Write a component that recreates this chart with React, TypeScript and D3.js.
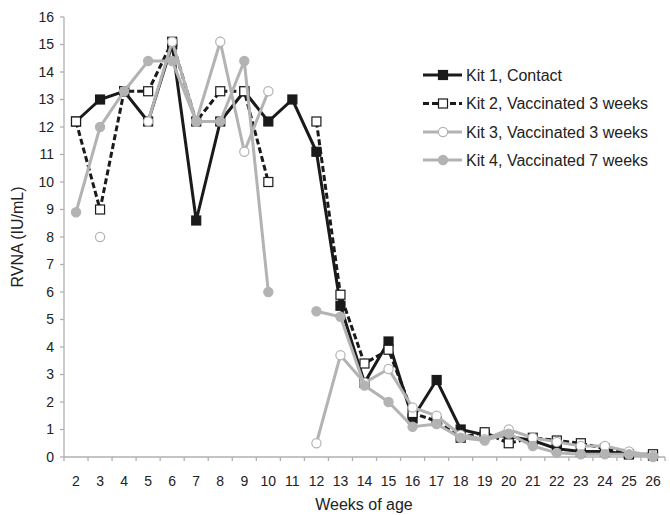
import React from 'react';
import * as d3 from 'd3';

const weeks = ['2', '3', '4', '5', '6', '7', '8', '9', '10', '11', '12', '13', '14', '15', '16', '17', '18', '19', '20', '21', '22', '23', '24', '25', '26'];
const yTicks = [0, 1, 2, 3, 4, 5, 6, 7, 8, 9, 10, 11, 12, 13, 14, 15, 16];

const kit1 = [12.2, 13.0, 13.3, 12.2, 15.0, 8.6, 12.2, 13.3, 12.2, 13.0, 11.1, 5.5, 2.7, 4.2, 1.4, 2.8, 1.0, 0.8, 0.75, 0.6, 0.3, 0.2, 0.2, 0.1, 0.05];
const kit2 = [12.2, 9.0, 13.3, 13.3, 15.1, 12.2, 13.3, 13.3, 10.0, null, 12.2, 5.9, 3.4, 3.9, 1.6, 1.3, 0.7, 0.9, 0.5, 0.7, 0.6, 0.5, 0.3, 0.1, 0.1];
const kit3 = [null, 8.0, null, 12.2, 15.1, 12.2, 15.1, 11.1, 13.3, null, 0.5, 3.7, 2.7, 3.2, 1.8, 1.5, 0.8, 0.65, 1.0, 0.7, 0.55, 0.4, 0.4, 0.2, 0.05];
const kit4 = [8.9, 12.0, 13.3, 14.4, 14.4, 12.2, 12.2, 14.4, 6.0, null, 5.3, 5.1, 2.6, 2.0, 1.1, 1.2, 0.7, 0.6, 0.85, 0.4, 0.15, 0.1, 0.1, 0.1, 0.0];

const seriesNames = ['Kit 1, Contact', 'Kit 2, Vaccinated 3 weeks', 'Kit 3, Vaccinated 3 weeks', 'Kit 4, Vaccinated 7 weeks'];

const BLACK = '#1a1a1a';
const GREY = '#b3b3b3';
const AXIS = '#b0b0b0';
const FONT = '"Liberation Sans", Arial, sans-serif';

type Style = { stroke: string; dash?: string; marker: 'square' | 'circle'; fill: string; mstroke: string };

const styles: Style[] = [
  { stroke: BLACK, marker: 'square', fill: BLACK, mstroke: BLACK },
  { stroke: BLACK, dash: '6,3', marker: 'square', fill: '#fff', mstroke: BLACK },
  { stroke: GREY, marker: 'circle', fill: '#fff', mstroke: GREY },
  { stroke: GREY, marker: 'circle', fill: GREY, mstroke: GREY },
];

const Marker: React.FC<{ s: Style; x: number; y: number }> = ({ s, x, y }) =>
  s.marker === 'square' ? (
    <rect x={x - 4.5} y={y - 4.5} width={9} height={9} fill={s.fill} stroke={s.mstroke} strokeWidth={1.2} />
  ) : (
    <circle cx={x} cy={y} r={4.6} fill={s.fill} stroke={s.mstroke} strokeWidth={1.2} />
  );

export default function App() {
  const width = 670;
  const height = 515;
  const left = 64;
  const right = 665;
  const top = 17;
  const bottom = 457;

  const x = d3.scaleBand<string>().domain(weeks).range([left, right]);
  const cx = (w: string) => (x(w) ?? 0) + x.bandwidth() / 2;
  const y = d3.scaleLinear().domain([0, 16]).range([bottom, top]);

  const all = [kit1, kit2, kit3, kit4];

  const line = d3
    .line<number | null>()
    .defined((d) => d !== null)
    .x((_, i) => cx(weeks[i]))
    .y((d) => y(d as number));

  const legendX = 423;
  const legendY = [75, 103.5, 132, 160];

  return (
    <div>
      <style>{`body{margin:0;background:#fff}`}</style>
      <svg width={width} height={height} style={{ display: 'block', fontFamily: FONT }}>
        <rect width={width} height={height} fill="#fff" />
        {/* y axis */}
        <line x1={left} x2={left} y1={top} y2={bottom} stroke={AXIS} strokeWidth={1.3} />
        {yTicks.map((t) => (
          <g key={t}>
            <line x1={left - 4} x2={left} y1={y(t)} y2={y(t)} stroke={AXIS} strokeWidth={1.3} />
            <text x={left - 10} y={y(t)} dy="0.35em" textAnchor="end" fontSize={14} fill="#222">
              {t}
            </text>
          </g>
        ))}
        {/* x axis */}
        <line x1={left} x2={right} y1={bottom} y2={bottom} stroke={AXIS} strokeWidth={1.3} />
        {weeks.map((w) => (
          <line key={'t' + w} x1={x(w)} x2={x(w)} y1={bottom} y2={bottom + 4} stroke={AXIS} strokeWidth={1.3} />
        ))}
        <line x1={right} x2={right} y1={bottom} y2={bottom + 4} stroke={AXIS} strokeWidth={1.3} />
        {weeks.map((w) => (
          <text key={'l' + w} x={cx(w)} y={486} textAnchor="middle" fontSize={14} fill="#222">
            {w}
          </text>
        ))}
        <text x={364} y={510} textAnchor="middle" fontSize={16} fill="#222">
          Weeks of age
        </text>
        <text transform={`translate(23,237) rotate(-90)`} textAnchor="middle" fontSize={16} fill="#222">
          RVNA (IU/mL)
        </text>

        {/* series */}
        {all.map((data, si) => {
          const s = styles[si];
          return (
            <g key={si}>
              <path d={line(data) ?? ''} fill="none" stroke={s.stroke} strokeWidth={3} strokeDasharray={s.dash} strokeLinejoin="miter" />
              {data.map((v, i) => (v === null ? null : <Marker key={i} s={s} x={cx(weeks[i])} y={y(v)} />))}
            </g>
          );
        })}

        {/* legend */}
        {seriesNames.map((n, i) => {
          const s = styles[i];
          const ly = legendY[i];
          return (
            <g key={n}>
              <line x1={legendX} x2={legendX + 39} y1={ly} y2={ly} stroke={s.stroke} strokeWidth={3} strokeDasharray={s.dash} />
              <Marker s={s} x={legendX + 20} y={ly} />
              <text x={legendX + 43} y={ly} dy="0.35em" fontSize={16} fill="#222">
                {n}
              </text>
            </g>
          );
        })}
      </svg>
    </div>
  );
}
